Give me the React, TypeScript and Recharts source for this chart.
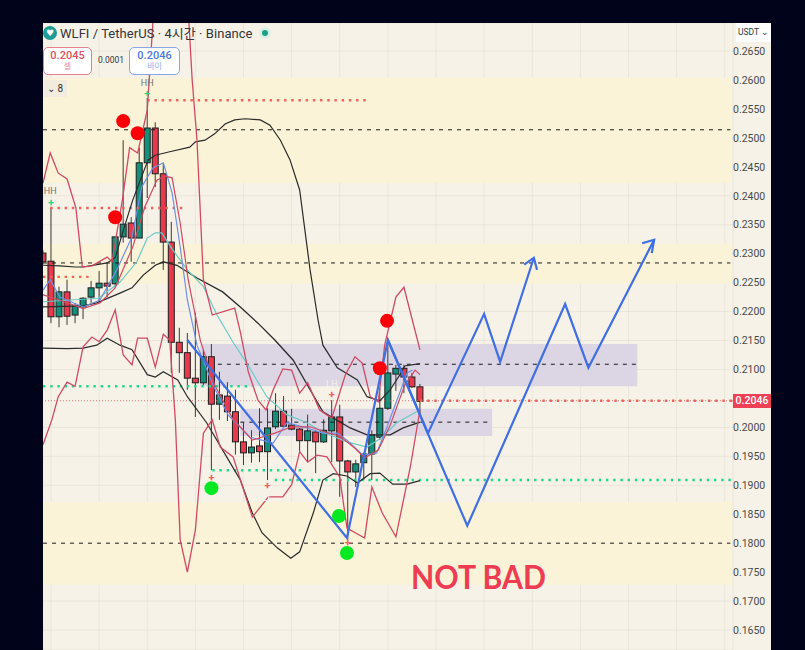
import { Bar, CartesianGrid, ComposedChart, Line, ReferenceArea, ReferenceDot, ReferenceLine, XAxis, YAxis } from "recharts";

const UI_FONT = "Roboto, 'Noto Sans CJK KR', sans-serif";

const opens = [0.2301, 0.2287, 0.2191, 0.2234, 0.2194, 0.2208, 0.2225, 0.2241, 0.2249, 0.2248, 0.2329, 0.2353, 0.2327, 0.2457, 0.2517, 0.2438, 0.232, 0.2147, 0.2129, 0.2085, 0.2077, 0.2122, 0.204, 0.2054, 0.2027, 0.1975, 0.1956, 0.1968, 0.1958, 0.2001, 0.2028, 0.2004, 0.1997, 0.1977, 0.1992, 0.1975, 0.1994, 0.2018, 0.1942, 0.1923, 0.1939, 0.1954, 0.1983, 0.2033, 0.2092, 0.2102, 0.2087, 0.207];
const highs = [0.2306, 0.2379, 0.2243, 0.2255, 0.2215, 0.2225, 0.2253, 0.227, 0.2284, 0.2329, 0.2496, 0.2363, 0.2483, 0.2569, 0.2527, 0.2457, 0.2355, 0.2172, 0.2163, 0.2198, 0.2134, 0.2144, 0.2096, 0.2078, 0.2065, 0.2009, 0.1995, 0.2033, 0.2033, 0.2059, 0.2054, 0.2032, 0.1999, 0.2022, 0.1995, 0.2014, 0.2047, 0.2039, 0.1944, 0.1944, 0.1956, 0.1995, 0.2068, 0.2154, 0.2108, 0.2108, 0.2094, 0.2075];
const lows = [0.2282, 0.218, 0.2173, 0.2177, 0.218, 0.2187, 0.2215, 0.2217, 0.2225, 0.2241, 0.2319, 0.2286, 0.2327, 0.2396, 0.2415, 0.2272, 0.2094, 0.2094, 0.2065, 0.2018, 0.2073, 0.1926, 0.2013, 0.2011, 0.1953, 0.1935, 0.1939, 0.194, 0.1909, 0.1997, 0.2001, 0.1995, 0.1958, 0.194, 0.1921, 0.1973, 0.194, 0.188, 0.1806, 0.1897, 0.1909, 0.1909, 0.1978, 0.203, 0.2063, 0.2059, 0.2068, 0.202];
const closes = [0.2286, 0.2191, 0.2234, 0.2192, 0.221, 0.2223, 0.2241, 0.2249, 0.2244, 0.2329, 0.2351, 0.2327, 0.2457, 0.2517, 0.2438, 0.232, 0.2147, 0.2129, 0.2085, 0.2077, 0.2122, 0.204, 0.2056, 0.2027, 0.1975, 0.1956, 0.1966, 0.1958, 0.1999, 0.2028, 0.2002, 0.1997, 0.1977, 0.1994, 0.1975, 0.1995, 0.2018, 0.1942, 0.1923, 0.1937, 0.1954, 0.1987, 0.2033, 0.2094, 0.2102, 0.2087, 0.207, 0.2045];

type Pt = [number, number];

const upperBand: Pt[] = [[0, 0.228], [2.1, 0.2279], [4, 0.2277], [5, 0.2277], [7.1, 0.2282], [8, 0.2284], [9, 0.2293], [10.2, 0.2349], [11.2, 0.2393], [13.1, 0.2462], [14, 0.247], [15.8, 0.2476], [18.3, 0.2484], [19, 0.2493], [20.2, 0.2496], [21.4, 0.2507], [22.7, 0.2524], [23.9, 0.2531], [25.2, 0.2533], [27.1, 0.2531], [28.3, 0.2522], [29.6, 0.2496], [30.8, 0.2462], [32, 0.241], [33.3, 0.2272], [34.3, 0.2185], [34.9, 0.2142], [36.7, 0.2103], [39.2, 0.2082], [40.4, 0.2053], [42, 0.2046], [43.3, 0.2065], [44.5, 0.2091], [45.1, 0.2106], [47, 0.211]];
const midBand: Pt[] = [[0, 0.2208], [5, 0.221], [6.7, 0.2215], [9.6, 0.2232], [11.1, 0.2241], [12.5, 0.2263], [14, 0.228], [15, 0.2286], [16.7, 0.228], [19.2, 0.2258], [22.4, 0.2234], [24.6, 0.2208], [26.8, 0.218], [28.9, 0.2151], [31.2, 0.2116], [33.3, 0.2065], [34.9, 0.2027], [36.2, 0.2016], [38.3, 0.1999], [40.4, 0.1987], [43.3, 0.1987], [44.9, 0.1999], [47, 0.2009]];
const lowerBand: Pt[] = [[0, 0.2137], [3, 0.2136], [5, 0.2137], [6.7, 0.2142], [8, 0.2154], [9.6, 0.2142], [11.1, 0.2134], [13, 0.2091], [14, 0.2087], [15, 0.2096], [16.8, 0.2082], [18, 0.2053], [20.4, 0.2008], [22.9, 0.1949], [24.6, 0.1909], [26.1, 0.1852], [27.3, 0.1818], [29.2, 0.1792], [30.9, 0.1774], [32, 0.1785], [33.7, 0.1852], [34.9, 0.1909], [36.2, 0.192], [37.9, 0.1916], [39.2, 0.1904], [40.8, 0.192], [42, 0.1921], [43.6, 0.1902], [45.4, 0.1902], [47, 0.1908]];
const outerHigh: Pt[] = [[0, 0.2422], [0.9, 0.2474], [1.9, 0.2439], [3, 0.2429], [4.1, 0.2379], [4.9, 0.2277], [6.1, 0.2279], [8, 0.2294], [8.6, 0.2286], [9.9, 0.2393], [10.8, 0.2483], [11.8, 0.2474], [13, 0.2548], [13.7, 0.2698], [14.5, 0.28], [17.9, 0.28], [18.2, 0.2698], [18.6, 0.26], [19.2, 0.2496], [20, 0.2255], [21.1, 0.2194], [23.9, 0.2206], [24.6, 0.2165], [25.6, 0.2096], [26.8, 0.2047], [27.8, 0.203], [28.7, 0.2065], [29.9, 0.2101], [31, 0.2099], [32, 0.2059], [33, 0.2077], [34.5, 0.203], [36, 0.2016], [37.7, 0.2091], [38.9, 0.2122], [39.8, 0.2111], [40.8, 0.2053], [41.8, 0.2044], [42.6, 0.2142], [44, 0.2225], [45, 0.2242], [47, 0.2134]];
const outerLow: Pt[] = [[0, 0.197], [1.1, 0.2013], [1.9, 0.2053], [3, 0.2078], [4, 0.2071], [5, 0.2139], [6.1, 0.2156], [7, 0.2148], [8, 0.2168], [9, 0.2203], [10, 0.2125], [11.1, 0.2108], [11.8, 0.2154], [13, 0.2154], [14, 0.2104], [15, 0.2161], [15.8, 0.2151], [16.5, 0.2013], [17.1, 0.1806], [18, 0.175], [19, 0.1823], [20, 0.199], [21.1, 0.2013], [22.1, 0.1966], [23.7, 0.1949], [26.1, 0.1845], [28.1, 0.188], [29.9, 0.188], [31, 0.1901], [32, 0.1958], [33, 0.194], [34.2, 0.1952], [35.4, 0.1949], [37, 0.1914], [37.9, 0.1826], [40.1, 0.1809], [41, 0.1897], [42.3, 0.1852], [44, 0.1811], [45.8, 0.1932], [47, 0.203]];
const fastBlue: Pt[] = [[0, 0.2237], [0.9, 0.2255], [2.1, 0.2225], [5, 0.2208], [7.1, 0.222], [9.2, 0.2272], [11.1, 0.2329], [12.3, 0.2415], [13.7, 0.2448], [15, 0.2457], [16.1, 0.2405], [17.1, 0.2312], [18, 0.222], [19.2, 0.2142], [21.2, 0.2073], [23.1, 0.2021], [25.8, 0.1983], [28.7, 0.1973], [30.4, 0.2008], [32.4, 0.2001], [34.9, 0.199], [36.7, 0.199], [37.9, 0.1978], [39.9, 0.1952], [41.6, 0.1956], [42.9, 0.2001], [45.4, 0.2094], [46.1, 0.2099]];
const fastRed: Pt[] = [[0, 0.2229], [2.1, 0.222], [5, 0.2205], [7.1, 0.2215], [9, 0.2241], [11.2, 0.2312], [12.7, 0.2381], [14.2, 0.2427], [15.2, 0.2434], [16.1, 0.2431], [17.1, 0.2353], [18.1, 0.2255], [19.6, 0.2151], [21.4, 0.2073], [23.6, 0.2016], [26.1, 0.1978], [28.9, 0.199], [31, 0.2001], [33.3, 0.2001], [35.2, 0.1992], [37, 0.1985], [38.9, 0.1964], [40.1, 0.1947], [41.8, 0.1961], [43.3, 0.2004], [45.1, 0.2073], [46.4, 0.2099], [47, 0.2091]];
const slowTeal: Pt[] = [[0, 0.2217], [6.9, 0.2223], [9.6, 0.2251], [11.7, 0.2286], [13, 0.2327], [14, 0.2336], [14.8, 0.2336], [16.2, 0.2306], [18, 0.2272], [20, 0.2243], [21.7, 0.2194], [23.7, 0.2147], [25.4, 0.2111], [27.9, 0.2053], [30.4, 0.2022], [32.9, 0.2008], [34.9, 0.1992], [37.9, 0.1975], [40.4, 0.1966], [42.3, 0.1983], [44.1, 0.2008], [46.6, 0.2027]];

const drawnPathA: Pt[] = [[18, 0.2151], [37.9, 0.1809], [43, 0.2151], [48, 0.199], [55, 0.2196], [57, 0.2113], [61.2, 0.2293]];
const arrowA: Pt[] = [[60, 0.2281], [61.2, 0.2293], [61.6, 0.2272]];
const drawnPathB: Pt[] = [[43, 0.2151], [52.9, 0.183], [65.1, 0.2213], [68, 0.2103], [76.2, 0.2324]];
const arrowB: Pt[] = [[74.7, 0.2318], [76.2, 0.2324], [75.9, 0.2301]];

const priceTicks = [0.165, 0.17, 0.175, 0.18, 0.185, 0.19, 0.195, 0.2, 0.21, 0.215, 0.22, 0.225, 0.23, 0.235, 0.24, 0.245, 0.25, 0.255, 0.26, 0.265];
const barTicks = [1, 7, 13, 19, 25, 31, 37, 43, 49, 55, 61, 67, 73, 79, 85];

// zones: bar from, bar to, price top, price bottom
const yellowZones = [[0, 85.9, 0.2604, 0.2422], [0, 85.9, 0.2317, 0.2248], [0, 85.9, 0.1871, 0.1728]];
const purpleZones = [[19.6, 74.1, 0.2144, 0.2071], [24.6, 56, 0.2032, 0.1985]];
// levels: bar from, bar to, price
const blackDashed = [[0, 85.7, 0.2514], [0, 85.7, 0.2284], [0, 85.7, 0.18], [21.8, 74.1, 0.2109], [24.6, 56, 0.2009]];
const redDotted = [[13, 40.8, 0.2565], [0.9, 17.7, 0.2379], [0, 5.9, 0.226], [47, 86, 0.2046]];
const greenDotted = [[0, 26.1, 0.2071], [21.1, 32.4, 0.1926], [28.9, 85.9, 0.1909]];
const redCircles: Pt[] = [[10, 0.2529], [11.8, 0.2508], [9, 0.2363], [42.9, 0.2184], [42, 0.2102]];
const greenCircles: Pt[] = [[21, 0.1895], [36.9, 0.1847], [37.9, 0.1783]];
const redPlus: Pt[] = [[21, 0.1914], [28, 0.19], [36, 0.2058], [38, 0.1802]];
const greenPlus: Pt[] = [[13, 0.2577], [1, 0.2389]];
const darkLabels: [number, number, string][] = [[13, 0.2595, "HH"], [0.9, 0.2408, "HH"]];
const paleLabels: [number, number, string][] = [[36, 0.2075, "LH"], [28, 0.1878, "LL"]];

const candles = opens.map((o, i) => ({ bar: i, o, h: highs[i], l: lows[i], c: closes[i], range: [lows[i], highs[i]] }));
const rows = (pts: Pt[]) => pts.map(([bar, p]) => ({ bar, p }));

const Candle = (props: any) => {
  const { x, y, width, height, payload } = props;
  const { o, h, l, c } = payload;
  const perPrice = height / (h - l);
  const cx = x + width / 2;
  const top = y + (h - Math.max(o, c)) * perPrice;
  const bottom = y + (h - Math.min(o, c)) * perPrice;
  return (
    <g>
      <line x1={cx} x2={cx} y1={y} y2={y + height} stroke="#3a3a3a" strokeWidth={1} />
      <rect x={cx - 3} y={top} width={6} height={Math.max(bottom - top, 1)} fill={c >= o ? "#14907a" : "#e8394d"} stroke="#1d1d1d" strokeWidth={1} />
    </g>
  );
};

const thin = (pts: Pt[], color: string, key: string, width = 1.2) => (
  <Line key={key} data={rows(pts)} dataKey="p" stroke={color} strokeWidth={width} dot={false} isAnimationActive={false} legendType="none" />
);

const boxBase: React.CSSProperties = { position: "absolute", background: "#fff", borderRadius: 5, textAlign: "center", boxSizing: "border-box", fontFamily: UI_FONT };

export default function App() {
  return (
    <div style={{ position: "fixed", left: 0, top: 0, width: 805, height: 650, background: "#01031a", overflow: "hidden" }}>
      <div style={{ position: "absolute", left: 43, top: 23, width: 728, height: 627, background: "#f6f2e8" }} />
      <div style={{ position: "absolute", left: 0, top: 0 }}>
        <ComposedChart width={805} height={650} data={candles} margin={{ top: 23, right: 34, bottom: 0, left: 43 }}>
          <XAxis dataKey="bar" type="number" domain={[0, 86.03]} ticks={barTicks} allowDataOverflow hide />
          <YAxis
            orientation="right"
            width={38}
            domain={[0.16155, 0.26984]}
            ticks={priceTicks}
            interval={0}
            allowDataOverflow
            axisLine={false}
            tickLine={false}
            tickSize={0}
            tickMargin={0}
            tickFormatter={(v: number) => v.toFixed(4)}
            tick={{ fill: "#4a4a4a", fontSize: 10.5, fontFamily: UI_FONT, textAnchor: "start" }}
          />
          {yellowZones.map(([a, b, t, d], i) => (
            <ReferenceArea key={`y${i}`} x1={a} x2={b} y1={d} y2={t} fill="#faf3d8" fillOpacity={1} stroke="none" />
          ))}
          {purpleZones.map(([a, b, t, d], i) => (
            <ReferenceArea key={`p${i}`} x1={a} x2={b} y1={d} y2={t} fill="#dcd5e4" fillOpacity={1} stroke="none" />
          ))}
          <CartesianGrid stroke="#6e6440" strokeOpacity={0.08} strokeWidth={1} />
          {blackDashed.map(([a, b, p], i) => (
            <ReferenceLine key={`k${i}`} segment={[{ x: a, y: p }, { x: b, y: p }]} stroke="#1a1a1a" strokeWidth={1} strokeDasharray="4 5" />
          ))}
          <ReferenceLine y={0.2046} stroke="#e2555f" strokeWidth={0.8} strokeDasharray="1 2" />
          {redDotted.map(([a, b, p], i) => (
            <ReferenceLine key={`r${i}`} segment={[{ x: a, y: p }, { x: b, y: p }]} stroke="#f2605a" strokeWidth={2.4} strokeDasharray="2.4 4.8" />
          ))}
          {greenDotted.map(([a, b, p], i) => (
            <ReferenceLine key={`g${i}`} segment={[{ x: a, y: p }, { x: b, y: p }]} stroke="#1fd98a" strokeWidth={2.4} strokeDasharray="2.4 4.8" />
          ))}
          <Bar dataKey="range" barSize={6} shape={Candle} isAnimationActive={false} legendType="none" />
          {thin(upperBand, "#2b2b2b", "upper")}
          {thin(midBand, "#2b2b2b", "mid", 1.3)}
          {thin(lowerBand, "#2b2b2b", "lower")}
          {thin(slowTeal, "#6cc9c6", "teal")}
          {thin(fastBlue, "#6f90e4", "blue")}
          {thin(fastRed, "#cf4a63", "fast")}
          {thin(outerHigh, "#cf4a63", "outerHigh", 1.3)}
          {thin(outerLow, "#cf4a63", "outerLow", 1.3)}
          {thin(drawnPathA, "#3f6fe3", "pathA", 2.2)}
          {thin(arrowA, "#3f6fe3", "arrowA", 2.2)}
          {thin(drawnPathB, "#3f6fe3", "pathB", 2.2)}
          {thin(arrowB, "#3f6fe3", "arrowB", 2.2)}
          {redCircles.map(([b, p], i) => (
            <ReferenceDot key={`rc${i}`} x={b} y={p} r={7} fill="#fa0008" stroke="none" />
          ))}
          {greenCircles.map(([b, p], i) => (
            <ReferenceDot key={`gc${i}`} x={b} y={p} r={7} fill="#06e822" stroke="none" />
          ))}
          {redPlus.map(([b, p], i) => (
            <ReferenceDot key={`rp${i}`} x={b} y={p} r={0} label={{ value: "+", position: "center", fill: "#f2605a", fontSize: 11, fontWeight: 700, fontFamily: UI_FONT }} />
          ))}
          {greenPlus.map(([b, p], i) => (
            <ReferenceDot key={`gp${i}`} x={b} y={p} r={0} label={{ value: "+", position: "center", fill: "#1fd98a", fontSize: 11, fontWeight: 700, fontFamily: UI_FONT }} />
          ))}
          {darkLabels.map(([b, p, t], i) => (
            <ReferenceDot key={`dl${i}`} x={b} y={p} r={0} label={{ value: t, position: "center", fill: "#77746d", fontSize: 9, fontFamily: UI_FONT }} />
          ))}
          {paleLabels.map(([b, p, t], i) => (
            <ReferenceDot key={`pl${i}`} x={b} y={p} r={0} label={{ value: t, position: "center", fill: "#f6f2ee", fontSize: 9, fontFamily: UI_FONT }} />
          ))}
        </ComposedChart>
      </div>

      <div style={{ position: "absolute", left: 43, top: 26, width: 14, height: 14, borderRadius: 7, background: "#1c9c94", color: "#fff", fontSize: 9, lineHeight: "14px", textAlign: "center", fontFamily: "DejaVu Sans" }}>♥</div>
      <div style={{ position: "absolute", left: 60, top: 25, fontSize: 13, letterSpacing: 0.05, lineHeight: "17px", color: "#33343c", fontFamily: UI_FONT, whiteSpace: "nowrap" }}>WLFI / TetherUS · 4시간 · Binance</div>
      <div style={{ position: "absolute", left: 259, top: 27, width: 12, height: 12, borderRadius: 6, background: "#dcefe4" }} />
      <div style={{ position: "absolute", left: 262, top: 30, width: 6, height: 6, borderRadius: 3, background: "#17a184" }} />

      <div style={{ ...boxBase, left: 43, top: 47, width: 49, height: 28, border: "1.5px solid #e5808f", color: "#e0505f" }}>
        <div style={{ fontSize: 11, lineHeight: "13px", marginTop: 1, fontWeight: 500 }}>0.2045</div>
        <div style={{ fontSize: 8, lineHeight: "10px", color: "#ec8a92" }}>셀</div>
      </div>
      <div style={{ position: "absolute", left: 98, top: 54, fontSize: 8.5, lineHeight: "12px", color: "#33343c", fontFamily: UI_FONT }}>0.0001</div>
      <div style={{ ...boxBase, left: 129, top: 47, width: 51, height: 28, border: "1.5px solid #8aa8e6", color: "#4d78dc" }}>
        <div style={{ fontSize: 11, lineHeight: "13px", marginTop: 1, fontWeight: 500 }}>0.2046</div>
        <div style={{ fontSize: 8, lineHeight: "10px", color: "#92ace8" }}>바이</div>
      </div>
      <div style={{ position: "absolute", left: 43, top: 80, width: 24, height: 17, background: "#f1ecdd", borderRadius: 2, fontSize: 10, lineHeight: "17px", color: "#333", textAlign: "center", fontFamily: UI_FONT }}>⌄ 8</div>

      <div style={{ position: "absolute", left: 736, top: 23, width: 35, height: 19, background: "#fff", fontSize: 8.5, lineHeight: "19px", color: "#333", textAlign: "center", fontFamily: UI_FONT }}>USDT ⌄</div>
      <div style={{ position: "absolute", left: 733, top: 394, width: 38, height: 14, background: "#f04055", fontSize: 10.5, fontWeight: 500, lineHeight: "14px", color: "#fff", textAlign: "center", fontFamily: UI_FONT }}>0.2046</div>

      <div style={{ position: "absolute", left: 411, top: 556, fontSize: 33, lineHeight: "40px", fontWeight: 700, color: "#ee3c52", fontFamily: "Lato, sans-serif", whiteSpace: "nowrap", transform: "scaleX(0.915)", transformOrigin: "left center" }}>NOT BAD</div>
    </div>
  );
}
